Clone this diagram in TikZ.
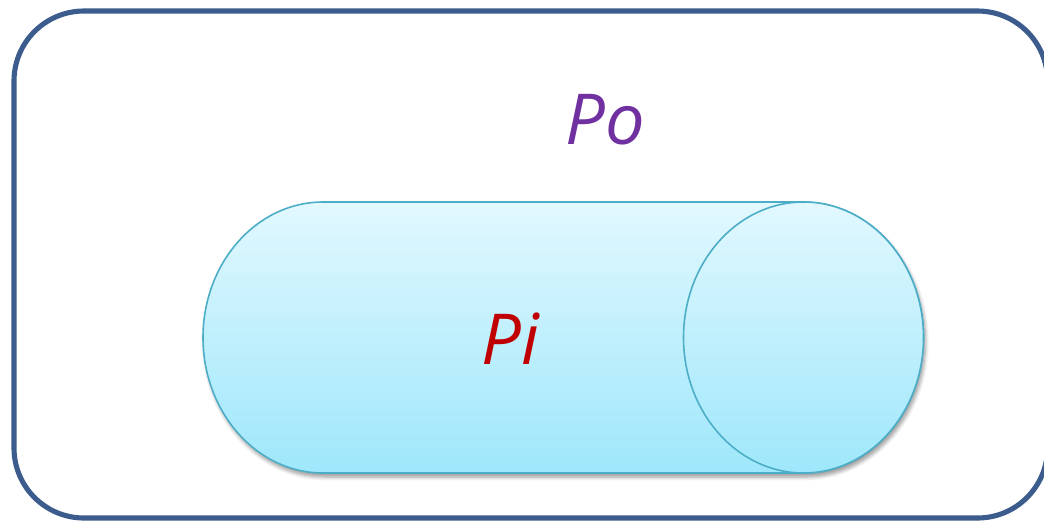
\documentclass[tikz,border=0pt]{standalone}
\usepackage{fontspec}
\setmainfont{Open Sans}
\usepackage{xcolor}
\usetikzlibrary{shadows.blur}
\definecolor{framecol}{HTML}{3B5C8C}
\definecolor{tubeline}{HTML}{4BADC6}
\definecolor{tubetop}{HTML}{E2F8FE}
\definecolor{tubebot}{HTML}{9EE7FB}
\definecolor{pocol}{HTML}{7030A0}
\definecolor{picol}{HTML}{C00000}

\begin{document}
\begin{tikzpicture}[every node/.style={font=\fontsize{40}{44}\selectfont\itshape},
  frame/.style={draw=framecol, line width=2.9pt, rounded corners=1.4cm},
  tube/.style={draw=tubeline, line width=0.9pt, top color=tubetop, bottom color=tubebot}]
  \useasboundingbox (0,0) rectangle (20.88,-10.44);
  \draw[frame] (0.28,-0.22) rectangle (20.95,-10.36);
  \path[tube, blur shadow={shadow xshift=0.04cm, shadow yshift=-0.08cm, shadow blur steps=6, shadow opacity=40}]
    (16.07,-4.04) -- (6.46,-4.04) arc (90:270:2.4 and 2.71) -- (16.07,-9.46) arc (-90:90:2.4 and 2.71) -- cycle;
  \draw[tube] (16.07,-6.75) ellipse (2.4 and 2.71);
  \node[text=pocol] (po) at (12.1,-2.4) {Po};
  \node[text=picol] (pi) at (10.2,-6.78) {Pi};
\end{tikzpicture}
\end{document}
